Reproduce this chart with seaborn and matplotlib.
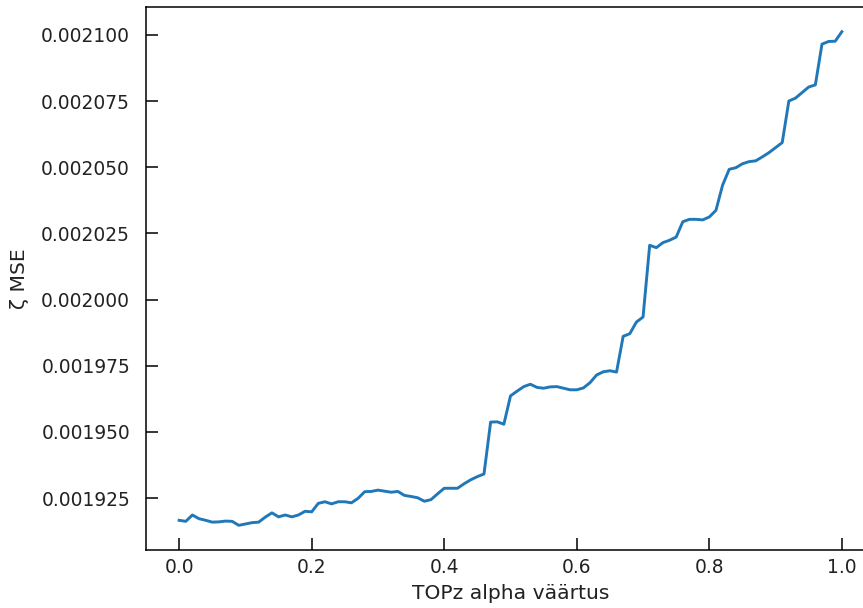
import matplotlib
matplotlib.use("Agg")
import matplotlib.pyplot as plt
import matplotlib.ticker as mticker
import numpy as np
import pandas as pd
import seaborn as sns

# alpha grid 0.00 .. 1.00
alphas = np.round(np.arange(0, 101) * 0.01, 2)

zeta_mse = [
    0.0019166, 0.0019162, 0.0019186, 0.0019172, 0.0019166, 0.0019159, 0.0019160, 0.0019163, 0.0019162, 0.0019147,
    0.0019152, 0.0019157, 0.0019159, 0.0019178, 0.0019194, 0.0019179, 0.0019186, 0.0019179, 0.0019186, 0.0019200,
    0.0019198, 0.0019230, 0.0019236, 0.0019228, 0.0019236, 0.0019236, 0.0019232, 0.0019249, 0.0019274, 0.0019275,
    0.0019280, 0.0019276, 0.0019272, 0.0019275, 0.0019260, 0.0019256, 0.0019251, 0.0019238, 0.0019244, 0.0019266,
    0.0019287, 0.0019287, 0.0019287, 0.0019304, 0.0019319, 0.0019331, 0.0019341, 0.0019537, 0.0019538, 0.0019529,
    0.0019636, 0.0019654, 0.0019671, 0.0019680, 0.0019668, 0.0019665, 0.0019670, 0.0019671, 0.0019665, 0.0019659,
    0.0019659, 0.0019666, 0.0019686, 0.0019715, 0.0019727, 0.0019731, 0.0019726, 0.0019861, 0.0019871, 0.0019915,
    0.0019934, 0.0020205, 0.0020196, 0.0020215, 0.0020224, 0.0020236, 0.0020294, 0.0020303, 0.0020303, 0.0020301,
    0.0020312, 0.0020337, 0.0020432, 0.0020492, 0.0020498, 0.0020513, 0.0020521, 0.0020524, 0.0020539, 0.0020555,
    0.0020574, 0.0020593, 0.0020750, 0.0020761, 0.0020782, 0.0020803, 0.0020811, 0.0020965, 0.0020975, 0.0020976,
    0.0021012,
]

x_label = "TOPz alpha väärtus"
y_label = "ζ MSE"

df = pd.DataFrame({"alpha": alphas, "mse": zeta_mse})

txt = "#222222"
fig = plt.figure(figsize=(8.63, 6.08), dpi=100)
# right spine falls outside the saved picture, as in the reference crop
ax = fig.add_axes([146 / 863, 58 / 608, 729 / 863, 543 / 608])

sns.lineplot(data=df, x="alpha", y="mse", ax=ax, color="#2078b8", linewidth=2.1)

ax.yaxis.set_major_locator(mticker.MultipleLocator(0.000025))
ax.yaxis.set_major_formatter(mticker.FormatStrFormatter("%.6f"))
ax.xaxis.set_major_locator(mticker.MultipleLocator(0.2))

ax.tick_params(axis="both", direction="in", length=8.3, width=1.1,
               labelsize=13.4, labelcolor=txt)
ax.tick_params(axis="y", pad=11.5)
ax.tick_params(axis="x", pad=6)
for sp in ax.spines.values():
    sp.set_linewidth(1.1)

ax.set_xlabel(x_label, fontsize=14.6, labelpad=5, color=txt)
ax.set_ylabel(y_label, fontsize=14.6, labelpad=9, color=txt)

fig.savefig("out.png", dpi=100)
